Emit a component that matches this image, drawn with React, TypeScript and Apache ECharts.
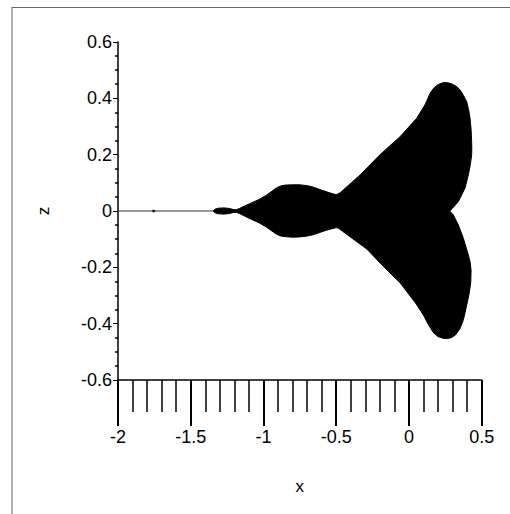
import React, { useEffect, useRef } from "react";
import * as echarts from "echarts";

const xTicks = [-2, -1.5, -1, -0.5, 0, 0.5];
const zTicks = [-0.6, -0.4, -0.2, 0, 0.2, 0.4, 0.6];

// upper boundary of the filled set, left to right then down the right side
const upperX = [-1.345, -1.335, -1.31, -1.27, -1.235, -1.205, -1.185, -1.165, -1.13, -1.09, -1.03, -0.977, -0.94, -0.908, -0.88, -0.85, -0.8, -0.75, -0.7, -0.665, -0.633, -0.6, -0.565, -0.53, -0.5, -0.475, -0.427, -0.336, -0.199, -0.061, 0.053, 0.11, 0.13, 0.145, 0.17, 0.2, 0.238, 0.27, 0.3, 0.33, 0.351, 0.375, 0.397, 0.41, 0.42, 0.427, 0.431, 0.432, 0.431, 0.422, 0.408, 0.385, 0.339, 0.3, 0.28];
const upperZ = [0, 0.006, 0.01, 0.011, 0.009, 0.005, 0.005, 0.009, 0.018, 0.027, 0.041, 0.057, 0.071, 0.083, 0.089, 0.092, 0.093, 0.093, 0.09, 0.086, 0.08, 0.074, 0.068, 0.062, 0.058, 0.064, 0.086, 0.128, 0.2, 0.264, 0.329, 0.377, 0.4, 0.418, 0.436, 0.449, 0.456, 0.455, 0.45, 0.441, 0.43, 0.41, 0.388, 0.36, 0.329, 0.29, 0.246, 0.22, 0.199, 0.165, 0.128, 0.081, 0.033, 0.01, 0];
// lower boundary, left to right then up the right side
const lowerX = [-1.345, -1.335, -1.31, -1.27, -1.235, -1.205, -1.185, -1.165, -1.13, -1.09, -1.03, -0.977, -0.94, -0.908, -0.88, -0.85, -0.8, -0.75, -0.7, -0.665, -0.633, -0.6, -0.565, -0.53, -0.5, -0.485, -0.427, -0.29, -0.16, -0.061, 0.05, 0.099, 0.13, 0.168, 0.2, 0.235, 0.26, 0.29, 0.32, 0.351, 0.375, 0.397, 0.415, 0.425, 0.427, 0.42, 0.408, 0.374, 0.34, 0.305, 0.28];
const lowerZ = [0, -0.006, -0.01, -0.011, -0.009, -0.005, -0.005, -0.009, -0.018, -0.028, -0.042, -0.058, -0.072, -0.083, -0.089, -0.091, -0.093, -0.092, -0.089, -0.085, -0.08, -0.074, -0.068, -0.063, -0.059, -0.061, -0.083, -0.135, -0.205, -0.255, -0.33, -0.369, -0.4, -0.432, -0.446, -0.452, -0.453, -0.45, -0.44, -0.417, -0.385, -0.334, -0.29, -0.251, -0.21, -0.18, -0.156, -0.097, -0.05, -0.014, 0];

const tailLine = [[-2, 0], [-1.345, 0]];
const miniDot = [[-1.755, 0]];

const FONT = "'Liberation Sans', Arial, sans-serif";

export default function App() {
  const ref = useRef<HTMLDivElement>(null);
  useEffect(() => {
    if (!ref.current) return;
    const chart = echarts.init(ref.current, undefined, { renderer: "svg" });
    chart.setOption({
      animation: false,
      backgroundColor: "#fff",
      grid: { left: 118, top: 42, right: 28.3, bottom: 134 },
      graphic: [
        { type: "line", shape: { x1: 12, y1: 7.5, x2: 510, y2: 7.5 }, style: { stroke: "#666", lineWidth: 1 } },
        { type: "line", shape: { x1: 12, y1: 7, x2: 12, y2: 514 }, style: { stroke: "#666", lineWidth: 1 } },
      ],
      xAxis: {
        type: "value",
        min: -2,
        max: 0.5,
        interval: 0.5,
        name: "x",
        nameLocation: "middle",
        nameGap: 98,
        nameTextStyle: { color: "#000", fontSize: 17, fontFamily: FONT },
        axisLine: { show: true, onZero: false, lineStyle: { color: "#000", width: 1.5 } },
        axisTick: { show: true, length: 46, lineStyle: { color: "#000", width: 2 } },
        minorTick: { show: true, splitNumber: 5, length: 32, lineStyle: { color: "#000", width: 1.5 } },
        axisLabel: {
          color: "#000",
          fontSize: 18,
          fontFamily: FONT,
          margin: 48,
          formatter: (v: number) => (xTicks.includes(v) ? String(v) : ""),
        },
        splitLine: { show: false },
        minorSplitLine: { show: false },
      },
      yAxis: {
        type: "value",
        min: -0.6,
        max: 0.6,
        interval: 0.2,
        name: "z",
        nameLocation: "middle",
        nameRotate: 90,
        nameGap: 66,
        nameTextStyle: { color: "#000", fontSize: 17, fontFamily: FONT },
        axisLine: { show: true, onZero: false, lineStyle: { color: "#000", width: 1.5 } },
        axisTick: { show: true, length: 5, lineStyle: { color: "#000", width: 1 } },
        minorTick: { show: true, splitNumber: 4, length: 3, lineStyle: { color: "#000", width: 1.5 } },
        axisLabel: {
          color: "#000",
          fontSize: 18,
          fontFamily: FONT,
          margin: 6,
          formatter: (v: number) => {
            const r = Math.round(v * 10) / 10;
            return zTicks.includes(r) ? String(r) : "";
          },
        },
        splitLine: { show: false },
        minorSplitLine: { show: false },
      },
      series: [
        {
          type: "line",
          data: tailLine,
          symbol: "none",
          lineStyle: { color: "#333", width: 1 },
          z: 3,
        },
        {
          type: "scatter",
          data: miniDot,
          symbol: "circle",
          symbolSize: 3,
          itemStyle: { color: "#000" },
          z: 3,
        },
        {
          type: "custom",
          data: [[0, 0]],
          z: 4,
          renderItem: (_params: any, api: any) => {
            const pts: number[][] = [];
            for (let i = 0; i < upperX.length; i++) pts.push(api.coord([upperX[i], upperZ[i]]));
            for (let i = lowerX.length - 1; i >= 0; i--) pts.push(api.coord([lowerX[i], lowerZ[i]]));
            return {
              type: "polygon",
              shape: { points: pts },
              style: { fill: "#000", stroke: "#000", lineWidth: 1 },
            };
          },
        },
      ],
    });
    return () => chart.dispose();
  }, []);
  return <div ref={ref} style={{ position: "fixed", left: 0, top: 0, width: 510, height: 514 }} />;
}
